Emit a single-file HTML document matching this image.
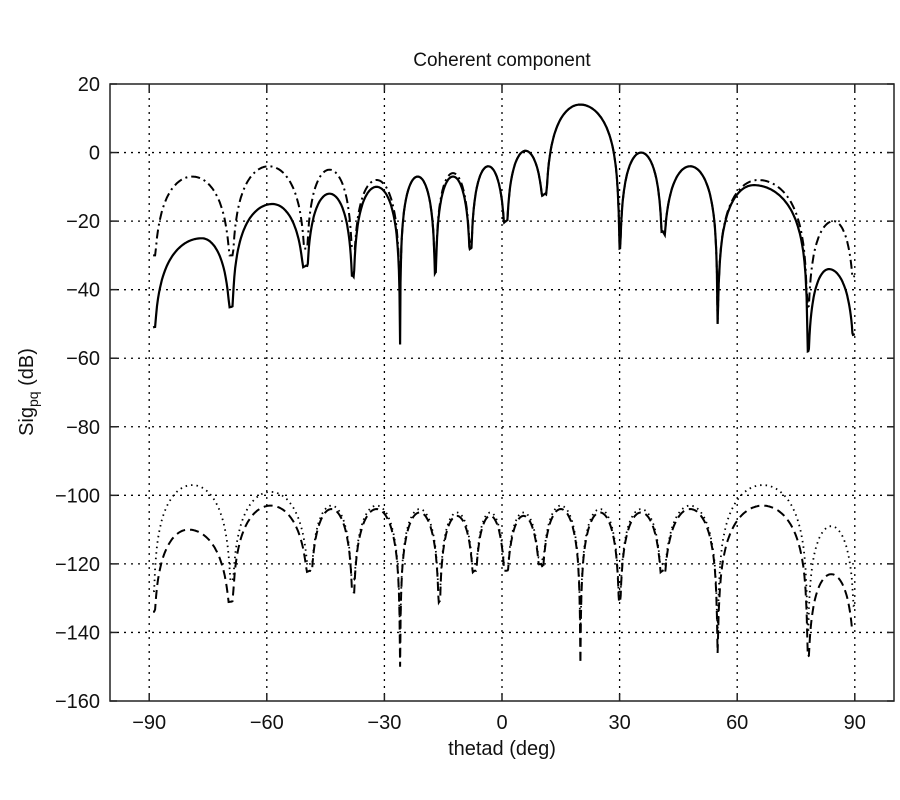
<!DOCTYPE html>
<html><head><meta charset="utf-8"><style>
html,body{margin:0;padding:0;background:#fff;}
svg{display:block;font-family:"Liberation Sans",sans-serif;}
</style></head><body>
<svg id="s" width="900" height="800" viewBox="0 0 900 800" xmlns="http://www.w3.org/2000/svg">
<rect x="0" y="0" width="900" height="800" fill="#fff"/>
<g id="grid" stroke="#000" stroke-width="1.3" stroke-dasharray="2,5"></g>
<g id="curves" fill="none" stroke="#000"></g>
<rect x="110" y="84" width="784" height="617" fill="none" stroke="#222" stroke-width="1.5"/>
<g id="ticks" stroke="#222" stroke-width="1.5"></g>
<g id="labels" font-size="20" fill="#111"></g>
<text x="502" y="66" font-size="19" text-anchor="middle" fill="#111">Coherent component</text>
<text x="502" y="755" font-size="20" text-anchor="middle" fill="#111">thetad (deg)</text>
<text transform="translate(33,392) rotate(-90)" font-size="20" text-anchor="middle" fill="#111">Sig<tspan font-size="14" dy="5">pq</tspan><tspan dy="-5"> (dB)</tspan></text>
</svg>
<script>
const NS="http://www.w3.org/2000/svg";
const X=d=>502+d*3.92, Y=v=>84+(20-v)*617/180;
const g=document.getElementById('grid'),t=document.getElementById('ticks'),l=document.getElementById('labels'),c=document.getElementById('curves');
function el(p,tag,a,txt){const e=document.createElementNS(NS,tag);for(const k in a)e.setAttribute(k,a[k]);if(txt!==undefined)e.textContent=txt;p.appendChild(e);return e;}
for(let d=-90;d<=90;d+=30){const x=X(d);el(g,'line',{x1:x,y1:84,x2:x,y2:701});el(t,'line',{x1:x,y1:701,x2:x,y2:694});el(t,'line',{x1:x,y1:84,x2:x,y2:91});
el(l,'text',{x:x,y:729,'text-anchor':'middle'},(d<0?'\u2212':'')+Math.abs(d));}
for(let v=-160;v<=20;v+=20){const y=Y(v);if(v>-160&&v<20)el(g,'line',{x1:110,y1:y,x2:894,y2:y});el(t,'line',{x1:110,y1:y,x2:117,y2:y});el(t,'line',{x1:894,y1:y,x2:887,y2:y});
el(l,'text',{x:100,y:y+7,'text-anchor':'end'},(v<0?'\u2212':'')+Math.abs(v));}
function curve(nulls,peaks,attrs,fs){fs=fs||{};let pts=[];
for(let i=0;i<nulls.length-1;i++){const [a,na]=nulls[i],[b,nb]=nulls[i+1],P=peaks[i],f=fs[i]||0.5;
for(let k=0;k<=80;k++){const tt=k/80,d=a+(b-a)*tt;const tw=tt<f?0.5*tt/f:0.5+0.5*(tt-f)/(1-f);let s=Math.sin(Math.PI*tw);let v=P+22*Math.log10(Math.max(s,1e-6));const fl=na+(nb-na)*tt;v=Math.max(v,fl);
if(i==0&&k==0)v=na;if(i==nulls.length-2&&k==80)v=nb;pts.push(X(d).toFixed(1)+','+Y(v).toFixed(1));}}
el(c,'polyline',Object.assign({points:pts.join(' ')},attrs));}
const solidN=[[-89,-51],[-69,-45],[-50,-33],[-38,-36],[-26,-56],[-17,-35],[-8,-28],[1,-20],[11,-12],[30,-28],[41,-23],[55,-50],[78,-58],[90,-53]];
curve(solidN,[-25,-15,-12,-10,-7,-7,-4,0.5,14,0,-4,-9.5,-34],{'stroke-width':2.2},{0:0.62,1:0.55,8:0.47,11:0.4,12:0.45});
const ddN=[[-89,-30],[-69,-30],[-50,-28],[-38,-28],[-26,-34],[-17,-30],[-8,-26],[1,-20],[11,-12],[30,-28],[41,-23],[55,-50],[78,-45],[90,-36]];
curve(ddN,[-7,-4,-5,-8,-7,-6,-4,0.5,14,0,-4,-8,-20],{'stroke-width':2,'stroke-dasharray':'9,4,2,4'},{0:0.5,8:0.47,11:0.45,12:0.55});
const dashN=[[-89,-134],[-69,-131],[-49,-122],[-38,-128],[-26,-150],[-16,-131],[-7,-122],[1,-122],[10,-120],[20,-149],[30,-131],[41,-122],[55,-146],[78,-147],[90,-138]];
curve(dashN,[-110,-103,-104,-104,-105,-106,-106,-106,-104,-105,-105,-104,-103,-123],{'stroke-width':2,'stroke-dasharray':'9,5'},{0:0.45});
const dotN=[[-89,-128],[-69,-125],[-49,-120],[-38,-124],[-26,-140],[-16,-128],[-7,-120],[1,-120],[10,-118],[20,-140],[30,-128],[41,-120],[55,-140],[78,-140],[90,-132]];
curve(dotN,[-97,-99,-103,-103,-104,-105,-105,-105,-103,-104,-104,-103,-97,-109],{'stroke-width':1.8,'stroke-dasharray':'1.5,4'});
</script>
</body></html>
